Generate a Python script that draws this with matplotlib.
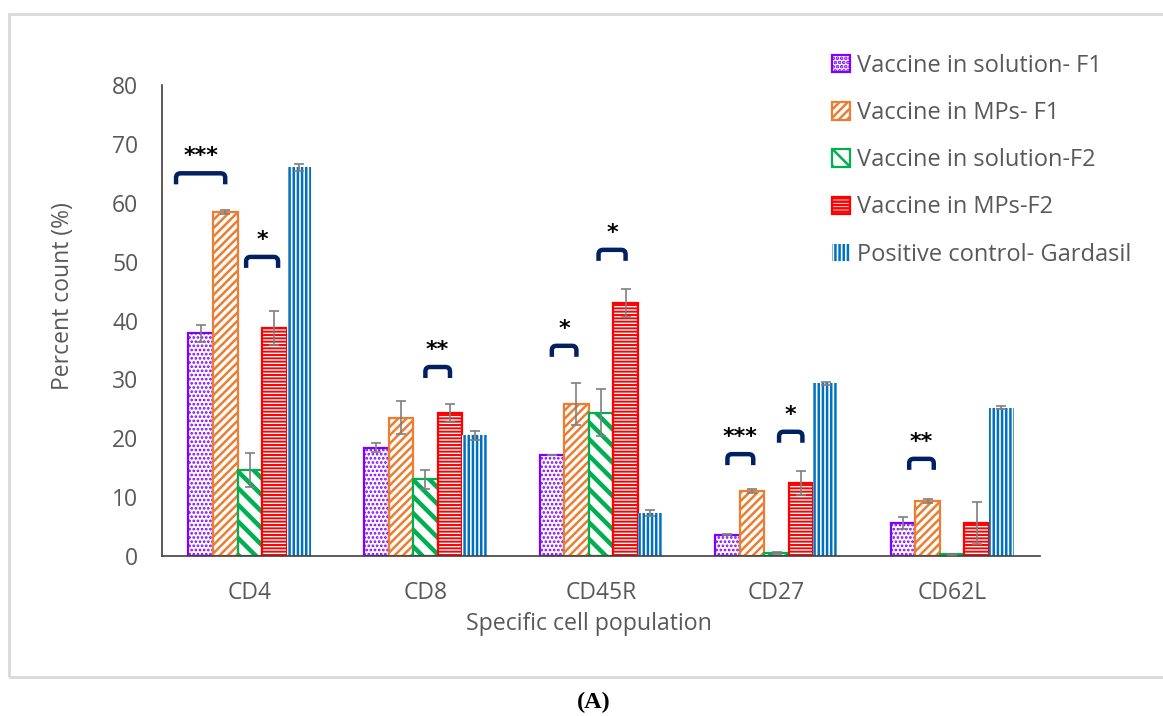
import numpy as np
import matplotlib
matplotlib.use("Agg")
import matplotlib.pyplot as plt
from matplotlib.path import Path
from matplotlib.patches import PathPatch, Rectangle

# ---------------- data ----------------
categories = ["CD4", "CD8", "CD45R", "CD27", "CD62L"]
series_names = ["Vaccine in solution- F1", "Vaccine in MPs- F1",
                "Vaccine in solution-F2", "Vaccine in MPs-F2",
                "Positive control- Gardasil"]
sol_f1 = [37.8, 18.4, 17.1, 3.6, 5.6]
sol_f1_err = [1.5, 0.8, 0.0, 0.1, 1.0]
mps_f1 = [58.4, 23.5, 25.8, 11.0, 9.3]
mps_f1_err = [0.3, 2.8, 3.6, 0.3, 0.3]
sol_f2 = [14.6, 13.0, 24.3, 0.5, 0.3]
sol_f2_err = [2.9, 1.6, 4.0, 0.2, 0.1]
mps_f2 = [38.7, 24.3, 43.0, 12.4, 5.6]
mps_f2_err = [2.9, 1.5, 2.4, 2.0, 3.6]
gardasil = [66.0, 20.5, 7.3, 29.3, 25.2]
gardasil_err = [0.6, 0.8, 0.5, 0.3, 0.3]

values = [sol_f1, mps_f1, sol_f2, mps_f2, gardasil]
errors = [sol_f1_err, mps_f1_err, sol_f2_err, mps_f2_err, gardasil_err]

# significance brackets: category index, left bar pos, right bar pos, bracket height, label
sig_cat = [0, 0, 1, 2, 2, 3, 3, 4]
sig_left = [-1.0, 1.85, 2.0, 0.0, 1.9, 0.0, 2.1, 0.25]
sig_right = [1.0, 3.15, 3.0, 1.0, 3.0, 1.05, 3.05, 1.25]
sig_height = [65.0, 50.8, 32.1, 35.7, 52.0, 17.3, 21.1, 16.5]
sig_label = ["***", "*", "**", "*", "*", "***", "*", "**"]

colors = ["#7F00FF", "#ED7D31", "#00B050", "#FF0000", "#0070C0"]
hatches = ["....", "////", "\\\\", "-----", "||||"]
hatch_lw = [1.3, 1.8, 3.2, 1.4, 1.8]

# ---------------- figure ----------------
W, H = 1163, 716
fig = plt.figure(figsize=(W / 100, H / 100), dpi=100)
plt.rcParams['font.family'] = ['Open Sans', 'DejaVu Sans']
plt.rcParams['hatch.linewidth'] = 1.8

ax_l, ax_r, ax_b, ax_t = 162, 1040, 556, 85
ax = fig.add_axes([ax_l / W, 1 - ax_b / H, (ax_r - ax_l) / W, (ax_b - ax_t) / H])

# outer light border
fig.add_artist(Rectangle((9 / W, 1 - 677 / H), 1.2, (677 - 14) / H,
                         transform=fig.transFigure, fill=False,
                         edgecolor="#D9D9D9", linewidth=2, clip_on=False))

x = np.arange(len(categories))
w = 0.14
handles = []
for j in range(5):
    with plt.rc_context({'hatch.linewidth': hatch_lw[j]}):
        bars = ax.bar(x + (j - 2) * w, values[j], width=w,
                      facecolor="white", edgecolor=colors[j],
                      hatch=hatches[j],
                      linewidth=0 if j == 4 else 1.6,
                      label=series_names[j], zorder=2)
    for b in bars:
        if hasattr(b, "set_hatch_linewidth"):
            b.set_hatch_linewidth(hatch_lw[j])
    handles.append(bars)
    ax.errorbar(x + (j - 2) * w, values[j], yerr=errors[j], fmt="none",
                ecolor="#7F7F7F", elinewidth=1.2, capsize=3.5, capthick=1.2,
                zorder=3)

ax.set_xlim(-0.5, 4.5)
ax.set_ylim(0, 80)
ax.set_yticks(np.arange(0, 81, 10))
ax.set_xticks(x)
ax.set_xticklabels(categories)
for s in ["top", "right"]:
    ax.spines[s].set_visible(False)
ax.spines["left"].set_color("#404040")
ax.spines["bottom"].set_color("#404040")
ax.spines["left"].set_linewidth(1.2)
ax.spines["bottom"].set_linewidth(1.2)
ax.tick_params(axis="y", length=0, pad=17, labelsize=16.5, labelcolor="#595959")
ax.tick_params(axis="x", length=0, pad=18, labelsize=16.5, labelcolor="#595959")

fig.text(63 / W, 1 - 296 / H, "Percent count (%)", rotation=90,
         ha="center", va="center", fontsize=16.5, color="#595959")
fig.text(589 / W, 1 - 624 / H, "Specific cell population",
         ha="center", va="center", fontsize=16.7, color="#595959")

fig.text(594 / W, 1 - 702 / H, "(A)", ha="center", va="center", fontsize=17.5,
         family="Liberation Serif", fontweight="bold")

# brackets
px_per_x = (ax_r - ax_l) / 5.0
px_per_y = (ax_b - ax_t) / 80.0
rx = 4.5 / px_per_x
ry = 4.5 / px_per_y
leg = 11.0 / px_per_y
for c, a, b, h, lab in zip(sig_cat, sig_left, sig_right, sig_height, sig_label):
    x0 = c + (a - 2) * w
    x1 = c + (b - 2) * w
    verts = [(x0, h - leg), (x0, h - ry), (x0, h), (x0 + rx, h),
             (x1 - rx, h), (x1, h), (x1, h - ry), (x1, h - leg)]
    codes = [Path.MOVETO, Path.LINETO, Path.CURVE3, Path.CURVE3,
             Path.LINETO, Path.CURVE3, Path.CURVE3, Path.LINETO]
    ax.add_patch(PathPatch(Path(verts, codes), fill=False, edgecolor="#002060",
                           linewidth=3.2, capstyle="butt", zorder=4,
                           clip_on=False))
    ax.text((x0 + x1) / 2, h + 1.2, lab, ha="center", va="bottom",
            fontsize=16, fontweight="bold", color="black",
            family="DejaVu Sans")

fig.legend(handles=handles, labels=series_names, loc="upper left",
           bbox_to_anchor=(832 / W, 1 - 54 / H), frameon=False,
           fontsize=17, labelcolor="#595959", handlelength=0.75,
           handleheight=0.75, handletextpad=0.3, labelspacing=0.98,
           borderaxespad=0, borderpad=0)

fig.savefig("out.png", dpi=100)
